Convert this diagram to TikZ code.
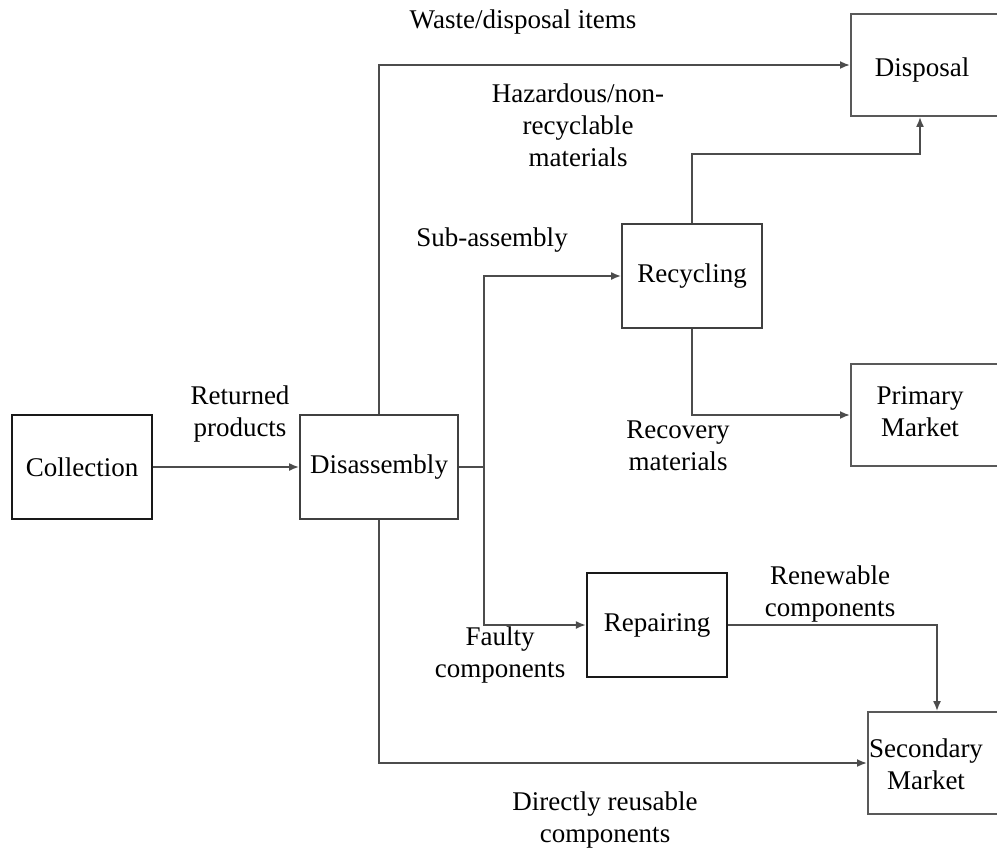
\documentclass[tikz,border=0pt]{standalone}
\usepackage{fontspec}
\setmainfont{Liberation Serif}
\usetikzlibrary{arrows.meta}
\begin{document}
\begin{tikzpicture}[x=0.5pt,y=-0.5pt,
  every node/.style={font=\fontsize{13.5}{16}\selectfont, align=center, inner sep=0pt},
  box/.style={draw=black!75, line width=0.9pt, minimum width=70pt, minimum height=52pt},
  darkbox/.style={box, draw=black!90, line width=1.1pt},
  openbox/.style={draw=black!65, line width=0.9pt, minimum width=90pt, minimum height=51pt},
  lbl/.style={},
  conn/.style={draw=black!70, line width=0.9pt},
  arrow/.style={conn, -{Latex[length=5pt,width=4pt]}}]
\useasboundingbox (0,0) rectangle (997,853);
\clip (0,0) rectangle (997,853);
\fill[white] (0,0) rectangle (997,853);
% boxes
\node[darkbox] (col) at (82,467) {Collection};
\node[box, minimum width=79pt] (dis) at (379,467) {Disassembly};
\node[box] (rec) at (692,276) {Recycling};
\node[darkbox] (rep) at (657,625) {Repairing};
\node[openbox, anchor=west] (disposal) at (850,65) {};
\node at (922,70) (disposaltxt) {Disposal};
\node[openbox, anchor=west] (primary) at (850,415) {};
\node at (920,412) (primarytxt) {Primary\\Market};
\node[openbox, anchor=west] (secondary) at (867,763) {};
\node at (926,764) (secondarytxt) {Secondary\\Market};
% connectors
\coordinate (bus) at (484,467);
\draw[arrow] (col) -- (dis);
\draw[arrow] (dis.north) |- (disposal.west);
\draw[conn] (dis.east) -- (bus);
\draw[arrow] (bus) |- (rec.west);
\draw[arrow] (bus) |- (rep.west);
\draw[arrow] (rec.north) -- ++(0,-69) -| ([xshift=35pt]disposal.south west);
\draw[arrow] (rec.south) |- (primary.west);
\draw[arrow] (rep.east) -| ([xshift=35pt]secondary.north west);
\draw[arrow] (dis.south) |- (secondary.west);
% labels
\node[lbl] (l1) at (240,414) {Returned\\products};
\node[lbl] (l2) at (523,22) {Waste/disposal items};
\node[lbl] (l3) at (578,125) {Hazardous/non-\\recyclable\\materials};
\node[lbl] (l4) at (492,240) {Sub-assembly};
\node[lbl] (l5) at (678,446) {Recovery\\materials};
\node[lbl] (l6) at (500,655) {Faulty\\components};
\node[lbl] (l7) at (830,594) {Renewable\\components};
\node[lbl] (l8) at (605,820) {Directly reusable\\components};
\end{tikzpicture}
\end{document}
